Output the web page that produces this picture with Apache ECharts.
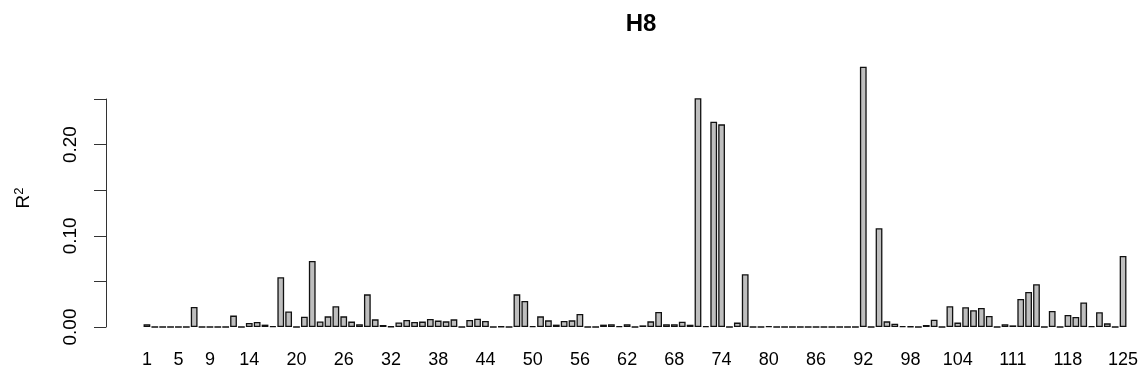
<!DOCTYPE html>
<html>
<head>
<meta charset="utf-8">
<script src="https://cdn.jsdelivr.net/npm/echarts@6/dist/echarts.min.js"></script>
<style>
  html, body { margin: 0; padding: 0; background: #fff; }
  #main { width: 1147px; height: 383px; }
</style>
</head>
<body>
<div id="main"></div>
<script>
// R^2 per position, 1..125
var r2 = [
  0.003, 0, 0, 0, 0, 0, 0.022, 0, 0, 0,
  0, 0.0125, 0, 0.0044, 0.0055, 0.0026, 0.0008, 0.0545, 0.017, 0,
  0.0113, 0.0724, 0.006, 0.0117, 0.0227, 0.0117, 0.0059, 0.003, 0.0358, 0.0084,
  0.0022, 0.0005, 0.005, 0.0077, 0.0055, 0.0059, 0.0088, 0.007, 0.0062, 0.0084,
  0, 0.0077, 0.0091, 0.0066, 0, 0.0005, 0, 0.0358, 0.0285, 0.001,
  0.0117, 0.0073, 0.0026, 0.0066, 0.0073, 0.0143, 0, 0, 0.0026, 0.003,
  0.0008, 0.003, 0, 0.0018, 0.0062, 0.0164, 0.003, 0.003, 0.0058, 0.0025,
  0.2508, 0.001, 0.2251, 0.2222, 0, 0.0048, 0.0578, 0, 0, 0.0008,
  0, 0, 0, 0, 0, 0, 0, 0, 0, 0,
  0, 0.2854, 0, 0.1082, 0.0062, 0.0037, 0.001, 0.0005, 0, 0.0022,
  0.008, 0, 0.0227, 0.0048, 0.0216, 0.0183, 0.0208, 0.0121, 0, 0.003,
  0.0018, 0.0307, 0.0384, 0.0468, 0, 0.0175, 0, 0.0132, 0.011, 0.027,
  0.0008, 0.0161, 0.004, 0, 0.0779
];

// category names 1..125
var positions = [];
for (var i = 1; i <= r2.length; i++) positions.push(String(i));

// labels R managed to print without overlap
var shownLabels = ['1', '5', '9', '14', '20', '26', '32', '38', '44', '50', '56',
  '62', '68', '74', '80', '86', '92', '98', '104', '111', '118', '125'];

// y tick labels (0.05 steps get ticks only)
var yLabels = ['0.00', '0.10', '0.20'];

var font = 'Liberation Sans, Arial, sans-serif';

var chart = echarts.init(document.getElementById('main'));

var option = {
  animation: false,
  title: {
    text: 'H8',
    left: 636,
    textAlign: 'center',
    top: 7,
    textStyle: { fontFamily: font, fontSize: 24, fontWeight: 'bold', color: '#000' }
  },
  grid: { left: 143, right: 20, top: 99, bottom: 56 },
  xAxis: {
    type: 'category',
    data: positions,
    axisLine: { show: false },
    axisTick: { show: false },
    axisLabel: {
      margin: 24,
      fontFamily: font,
      fontSize: 18,
      color: '#000',
      interval: function (idx, val) { return shownLabels.indexOf(val) !== -1; }
    }
  },
  yAxis: {
    type: 'value',
    min: 0,
    max: 0.25,
    interval: 0.05,
    offset: 37,
    name: 'R{sup|2}',
    nameLocation: 'middle',
    nameRotate: 90,
    nameGap: 72,
    nameTextStyle: {
      fontFamily: font,
      fontSize: 19,
      color: '#000',
      padding: [0, 0, 0, 30],
      rich: { sup: { fontFamily: font, fontSize: 13, verticalAlign: 'top', padding: [0, 0, 8, 0] } }
    },
    splitLine: { show: false },
    axisLine: { show: true, lineStyle: { color: '#333', width: 1 } },
    axisTick: { show: true, length: 12, lineStyle: { color: '#333' } },
    axisLabel: {
      rotate: 90,
      margin: 26,
      fontFamily: font,
      fontSize: 19,
      color: '#000',
      formatter: function (v) {
        var s = v.toFixed(2);
        return yLabels.indexOf(s) !== -1 ? s : '';
      }
    }
  },
  series: [{
    type: 'bar',
    data: r2,
    barWidth: '86%',
    clip: false,
    itemStyle: { color: '#bebebe', borderColor: '#111', borderWidth: 1.3 }
  }]
};

chart.setOption(option);
</script>
</body>
</html>
